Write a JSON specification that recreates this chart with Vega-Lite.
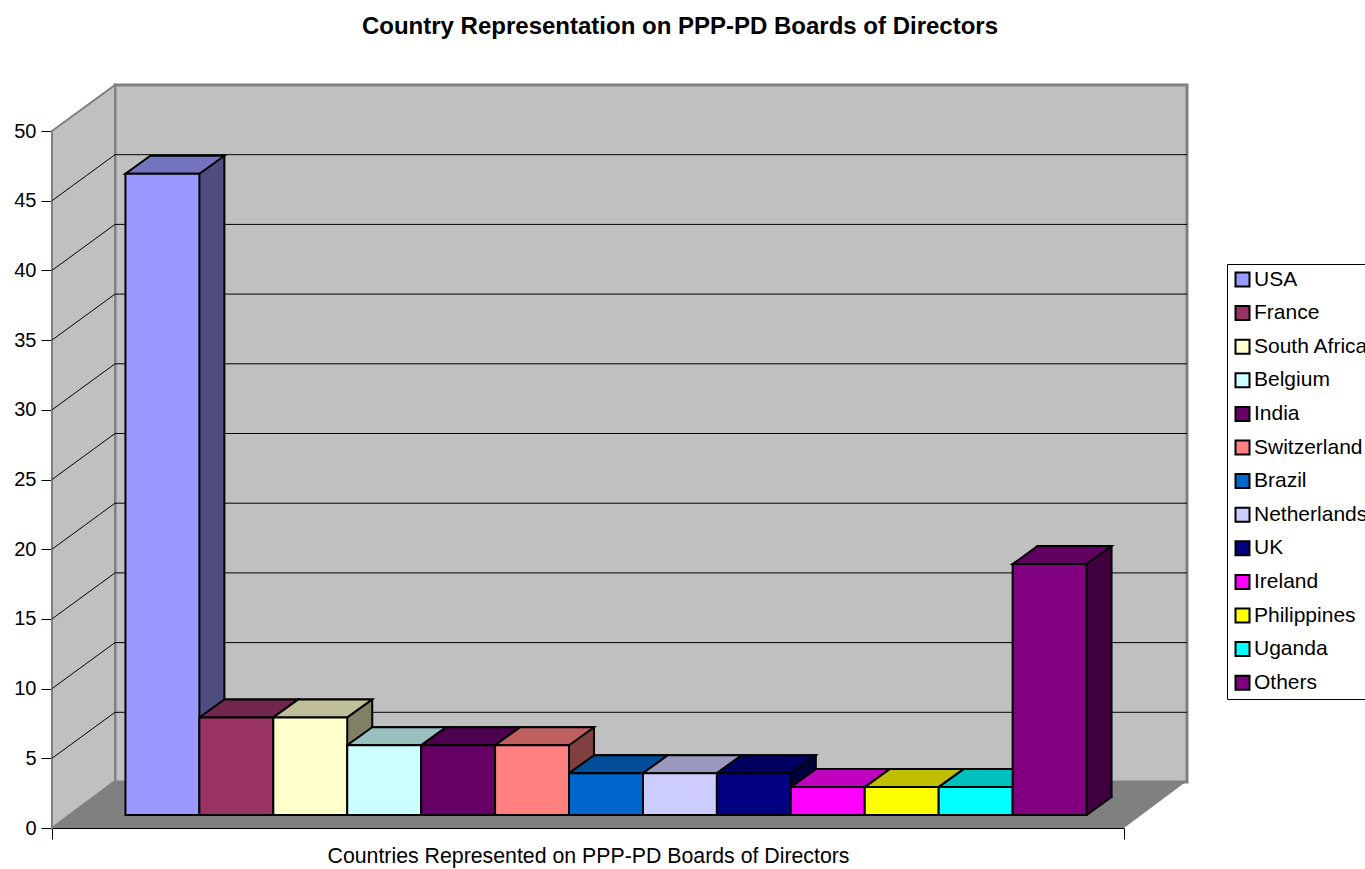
{
  "$schema": "https://vega.github.io/schema/vega-lite/v6.json",
  "width": 1072,
  "height": 697,
  "autosize": {"type": "none"},
  "padding": {"left": 52, "top": 131, "right": 241, "bottom": 41},
  "background": "white",
  "config": {
    "font": "Liberation Sans",
    "view": {"stroke": null},
    "axisY": {"labelFontSize": 20, "labelColor": "black", "labelFont": "Liberation Sans", "tickSize": 11, "tickColor": "black", "tickWidth": 1, "domain": false, "grid": false, "labelPadding": 5}
  },
  "title": {
    "text": "Country Representation on PPP-PD Boards of Directors",
    "fontSize": 24, "fontWeight": "bold", "font": "Liberation Sans", "color": "black",
    "anchor": "middle", "frame": "group", "dx": 92, "offset": 21, "baseline": "alphabetic"
  },
  "datasets": {
    "countries": [
      {"country": "USA", "value": 46},
      {"country": "France", "value": 7},
      {"country": "South Africa", "value": 7},
      {"country": "Belgium", "value": 5},
      {"country": "India", "value": 5},
      {"country": "Switzerland", "value": 5},
      {"country": "Brazil", "value": 3},
      {"country": "Netherlands", "value": 3},
      {"country": "UK", "value": 3},
      {"country": "Ireland", "value": 2},
      {"country": "Philippines", "value": 2},
      {"country": "Uganda", "value": 2},
      {"country": "Others", "value": 18}
    ],
    "grid": [{"v": 5}, {"v": 10}, {"v": 15}, {"v": 20}, {"v": 25}, {"v": 30}, {"v": 35}, {"v": 40}, {"v": 45}],
    "one": [{"k": 1}]
  },
  "layer": [
    {
      "data": {"name": "one"},
      "mark": {"type": "point", "shape": "M63,-46L1135,-46L1135,-743L63,-743Z", "size": 4, "filled": true, "fill": "#c0c0c0", "stroke": "#808080", "strokeWidth": 3, "opacity": 1},
      "encoding": {
        "x": {"datum": 0, "type": "quantitative", "scale": {"domain": [0, 1], "nice": false, "zero": false},
              "axis": {"orient": "bottom", "values": [0, 1], "labels": false, "ticks": true, "tickSize": 11, "tickColor": "black", "domain": true, "domainColor": "black", "domainWidth": 1, "grid": false,
                       "title": "Countries Represented on PPP-PD Boards of Directors", "titleFontSize": 21.3, "titleFontWeight": "normal", "titleColor": "black", "titlePadding": 6, "titleFont": "Liberation Sans"}},
        "y": {"datum": 0, "type": "quantitative", "scale": {"domain": [0, 50], "nice": false}, "axis": null}
      }
    },
    {
      "data": {"name": "one"},
      "mark": {"type": "point", "shape": "M0,0L0,-697L63,-743L63,-47Z", "size": 4, "filled": true, "fill": "#c0c0c0", "stroke": "#808080", "strokeWidth": 2, "opacity": 1},
      "encoding": {
        "x": {"datum": 0, "type": "quantitative", "scale": {"domain": [0, 1], "nice": false, "zero": false}, "axis": null},
        "y": {"datum": 0, "type": "quantitative", "scale": {"domain": [0, 50], "nice": false}, "axis": null}
      }
    },
    {
      "data": {"name": "one"},
      "mark": {"type": "point", "shape": "M0,0L1072,0L1135,-47L63,-47Z", "size": 4, "filled": true, "fill": "#808080", "strokeWidth": 0, "opacity": 1},
      "encoding": {
        "x": {"datum": 0, "type": "quantitative", "scale": {"domain": [0, 1], "nice": false, "zero": false}, "axis": null},
        "y": {"datum": 0, "type": "quantitative", "scale": {"domain": [0, 50], "nice": false}, "axis": null}
      }
    },
    {
      "data": {"name": "grid"},
      "mark": {"type": "point", "shape": "M0,0L63,-46L1135,-46", "size": 4, "filled": false, "stroke": "black", "strokeWidth": 1, "opacity": 1},
      "encoding": {
        "x": {"datum": 0, "type": "quantitative", "scale": {"domain": [0, 1], "nice": false, "zero": false}, "axis": null},
        "y": {"field": "v", "type": "quantitative", "scale": {"domain": [0, 50], "nice": false}, "axis": null}
      }
    },
    {
      "data": {"name": "countries"},
      "mark": {"type": "bar", "stroke": "black", "strokeWidth": 2, "opacity": 1, "xOffset": 43, "yOffset": -31, "y2Offset": -31},
      "encoding": {
        "x": {"field": "country", "type": "nominal", "sort": null, "scale": {"type": "band", "paddingInner": 0, "paddingOuter": 0.75}, "axis": null},
        "y": {"field": "value", "type": "quantitative", "scale": {"domain": [0, 50], "nice": false}, "axis": null},
        "color": {"field": "country", "type": "nominal", "legend": null,
                  "scale": {"domain": ["USA", "France", "South Africa", "Belgium", "India", "Switzerland", "Brazil", "Netherlands", "UK", "Ireland", "Philippines", "Uganda", "Others"],
                            "range": ["#4d4d80", "#4d1a33", "#808066", "#668080", "#330033", "#804040", "#003366", "#666680", "#000040", "#800080", "#808000", "#008080", "#400040"]}}
      }
    },
    {
      "data": {"name": "countries"},
      "mark": {"type": "point", "shape": "M55,-12L55,-32L82,-32Z", "size": 4, "filled": true, "strokeWidth": 0, "opacity": 1},
      "encoding": {
        "x": {"field": "country", "type": "nominal", "sort": null, "scale": {"type": "band", "paddingInner": 0, "paddingOuter": 0.75}, "axis": null},
        "y": {"datum": 0, "type": "quantitative", "scale": {"domain": [0, 50], "nice": false}, "axis": null},
        "color": {"field": "country", "type": "nominal", "legend": null,
                  "scale": {"domain": ["USA", "France", "South Africa", "Belgium", "India", "Switzerland", "Brazil", "Netherlands", "UK", "Ireland", "Philippines", "Uganda", "Others"],
                            "range": ["#4d4d80", "#4d1a33", "#808066", "#668080", "#330033", "#804040", "#003366", "#666680", "#000040", "#800080", "#808000", "#008080", "#400040"]}}
      }
    },
    {
      "data": {"name": "countries"},
      "mark": {"type": "point", "shape": "M55,-13L80,-31", "size": 4, "filled": false, "stroke": "black", "strokeWidth": 2, "opacity": 1},
      "encoding": {
        "x": {"field": "country", "type": "nominal", "sort": null, "scale": {"type": "band", "paddingInner": 0, "paddingOuter": 0.75}, "axis": null},
        "y": {"datum": 0, "type": "quantitative", "scale": {"domain": [0, 50], "nice": false}, "axis": null}
      }
    },
    {
      "data": {"name": "countries"},
      "mark": {"type": "point", "shape": "M-19,-13L55,-13L80,-31L6,-31Z", "size": 4, "filled": true, "stroke": "black", "strokeWidth": 2, "opacity": 1},
      "encoding": {
        "x": {"field": "country", "type": "nominal", "sort": null, "scale": {"type": "band", "paddingInner": 0, "paddingOuter": 0.75}, "axis": null},
        "y": {"field": "value", "type": "quantitative", "scale": {"domain": [0, 50], "nice": false}, "axis": null},
        "color": {"field": "country", "type": "nominal", "legend": null,
                  "scale": {"domain": ["USA", "France", "South Africa", "Belgium", "India", "Switzerland", "Brazil", "Netherlands", "UK", "Ireland", "Philippines", "Uganda", "Others"],
                            "range": ["#7373bf", "#73264d", "#bfbf99", "#99bfbf", "#4d004d", "#bf6060", "#004d99", "#9999bf", "#000060", "#bf00bf", "#bfbf00", "#00bfbf", "#600060"]}}
      }
    },
    {
      "data": {"name": "countries"},
      "mark": {"type": "bar", "stroke": "black", "strokeWidth": 2, "opacity": 1, "xOffset": 18, "yOffset": -13, "y2Offset": -13},
      "encoding": {
        "x": {"field": "country", "type": "nominal", "sort": null, "scale": {"type": "band", "paddingInner": 0, "paddingOuter": 0.75}, "axis": null},
        "y": {"field": "value", "type": "quantitative", "scale": {"domain": [0, 50], "nice": false},
              "axis": {"values": [0, 5, 10, 15, 20, 25, 30, 35, 40, 45, 50], "title": null, "orient": "left"}},
        "color": {"field": "country", "type": "nominal",
                  "scale": {"domain": ["USA", "France", "South Africa", "Belgium", "India", "Switzerland", "Brazil", "Netherlands", "UK", "Ireland", "Philippines", "Uganda", "Others"],
                            "range": ["#9999ff", "#993366", "#ffffcc", "#ccffff", "#660066", "#ff8080", "#0066cc", "#ccccff", "#000080", "#ff00ff", "#ffff00", "#00ffff", "#800080"]},
                  "legend": {"orient": "none", "legendX": 1175, "legendY": 133, "title": null, "strokeColor": "black", "fillColor": "white", "padding": 5,
                             "symbolType": "square", "symbolSize": 196, "symbolStrokeColor": "black", "symbolStrokeWidth": 2, "symbolOpacity": 1,
                             "labelFontSize": 21, "labelFont": "Liberation Sans", "labelColor": "black", "labelOffset": 1, "rowPadding": 10.6, "labelLimit": 0}}
      }
    }
  ],
  "resolve": {"scale": {"x": "independent", "color": "independent"}, "axis": {"x": "independent", "y": "independent"}}
}
